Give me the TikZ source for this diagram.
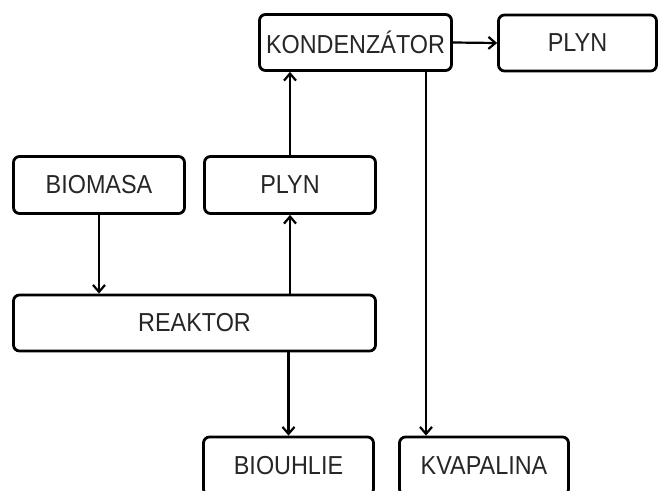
\documentclass[tikz,border=0pt]{standalone}
\usepackage{fontspec}
\setmainfont{Liberation Sans}[FakeStretch=0.9]
\usetikzlibrary{arrows.meta}
\tikzset{
  box/.style={draw, line width=2.8pt, rounded corners=6pt, inner sep=0pt, font=\fontsize{26}{29}\selectfont, text=black!85},
  flow/.style={line width=2.2pt, -{Straight Barb[length=7pt,width=12pt,line width=2.2pt]}}
}
\begin{document}
\begin{tikzpicture}[x=1pt,y=-1pt]
\useasboundingbox (0,0) rectangle (660,490);
\clip (0,0) rectangle (660,490);
\node[box, minimum width=192pt, minimum height=56pt] (kond) at (355.5,42.5) {KONDENZÁTOR};
\node[box, minimum width=158pt, minimum height=56pt] (plynA) at (577.5,43) {PLYN};
\node[box, minimum width=171pt, minimum height=57pt] (bio) at (99,185) {BIOMASA};
\node[box, minimum width=171pt, minimum height=57pt] (plynB) at (290,185) {PLYN};
\node[box, minimum width=362pt, minimum height=56pt] (reak) at (194.5,323) {REAKTOR};
\node[box, minimum width=170pt, minimum height=58pt] (uhl) at (288.5,466) {BIOUHLIE};
\node[box, minimum width=169pt, minimum height=58pt] (kvap) at (484,466) {KVAPALINA};
\coordinate (kx) at (426,0);
\draw[flow] (kond.east) -- (plynA.west);
\draw[flow] (bio.south) -- (bio.south |- reak.north);
\draw[flow] (reak.north -| plynB.south) -- (plynB.south);
\draw[flow] (plynB.north) -- (plynB.north |- kond.south);
\draw[flow] (reak.south -| uhl.north) -- (uhl.north);
\draw[flow] (kond.south -| kx) -- (kvap.north -| kx);
\end{tikzpicture}
\end{document}
